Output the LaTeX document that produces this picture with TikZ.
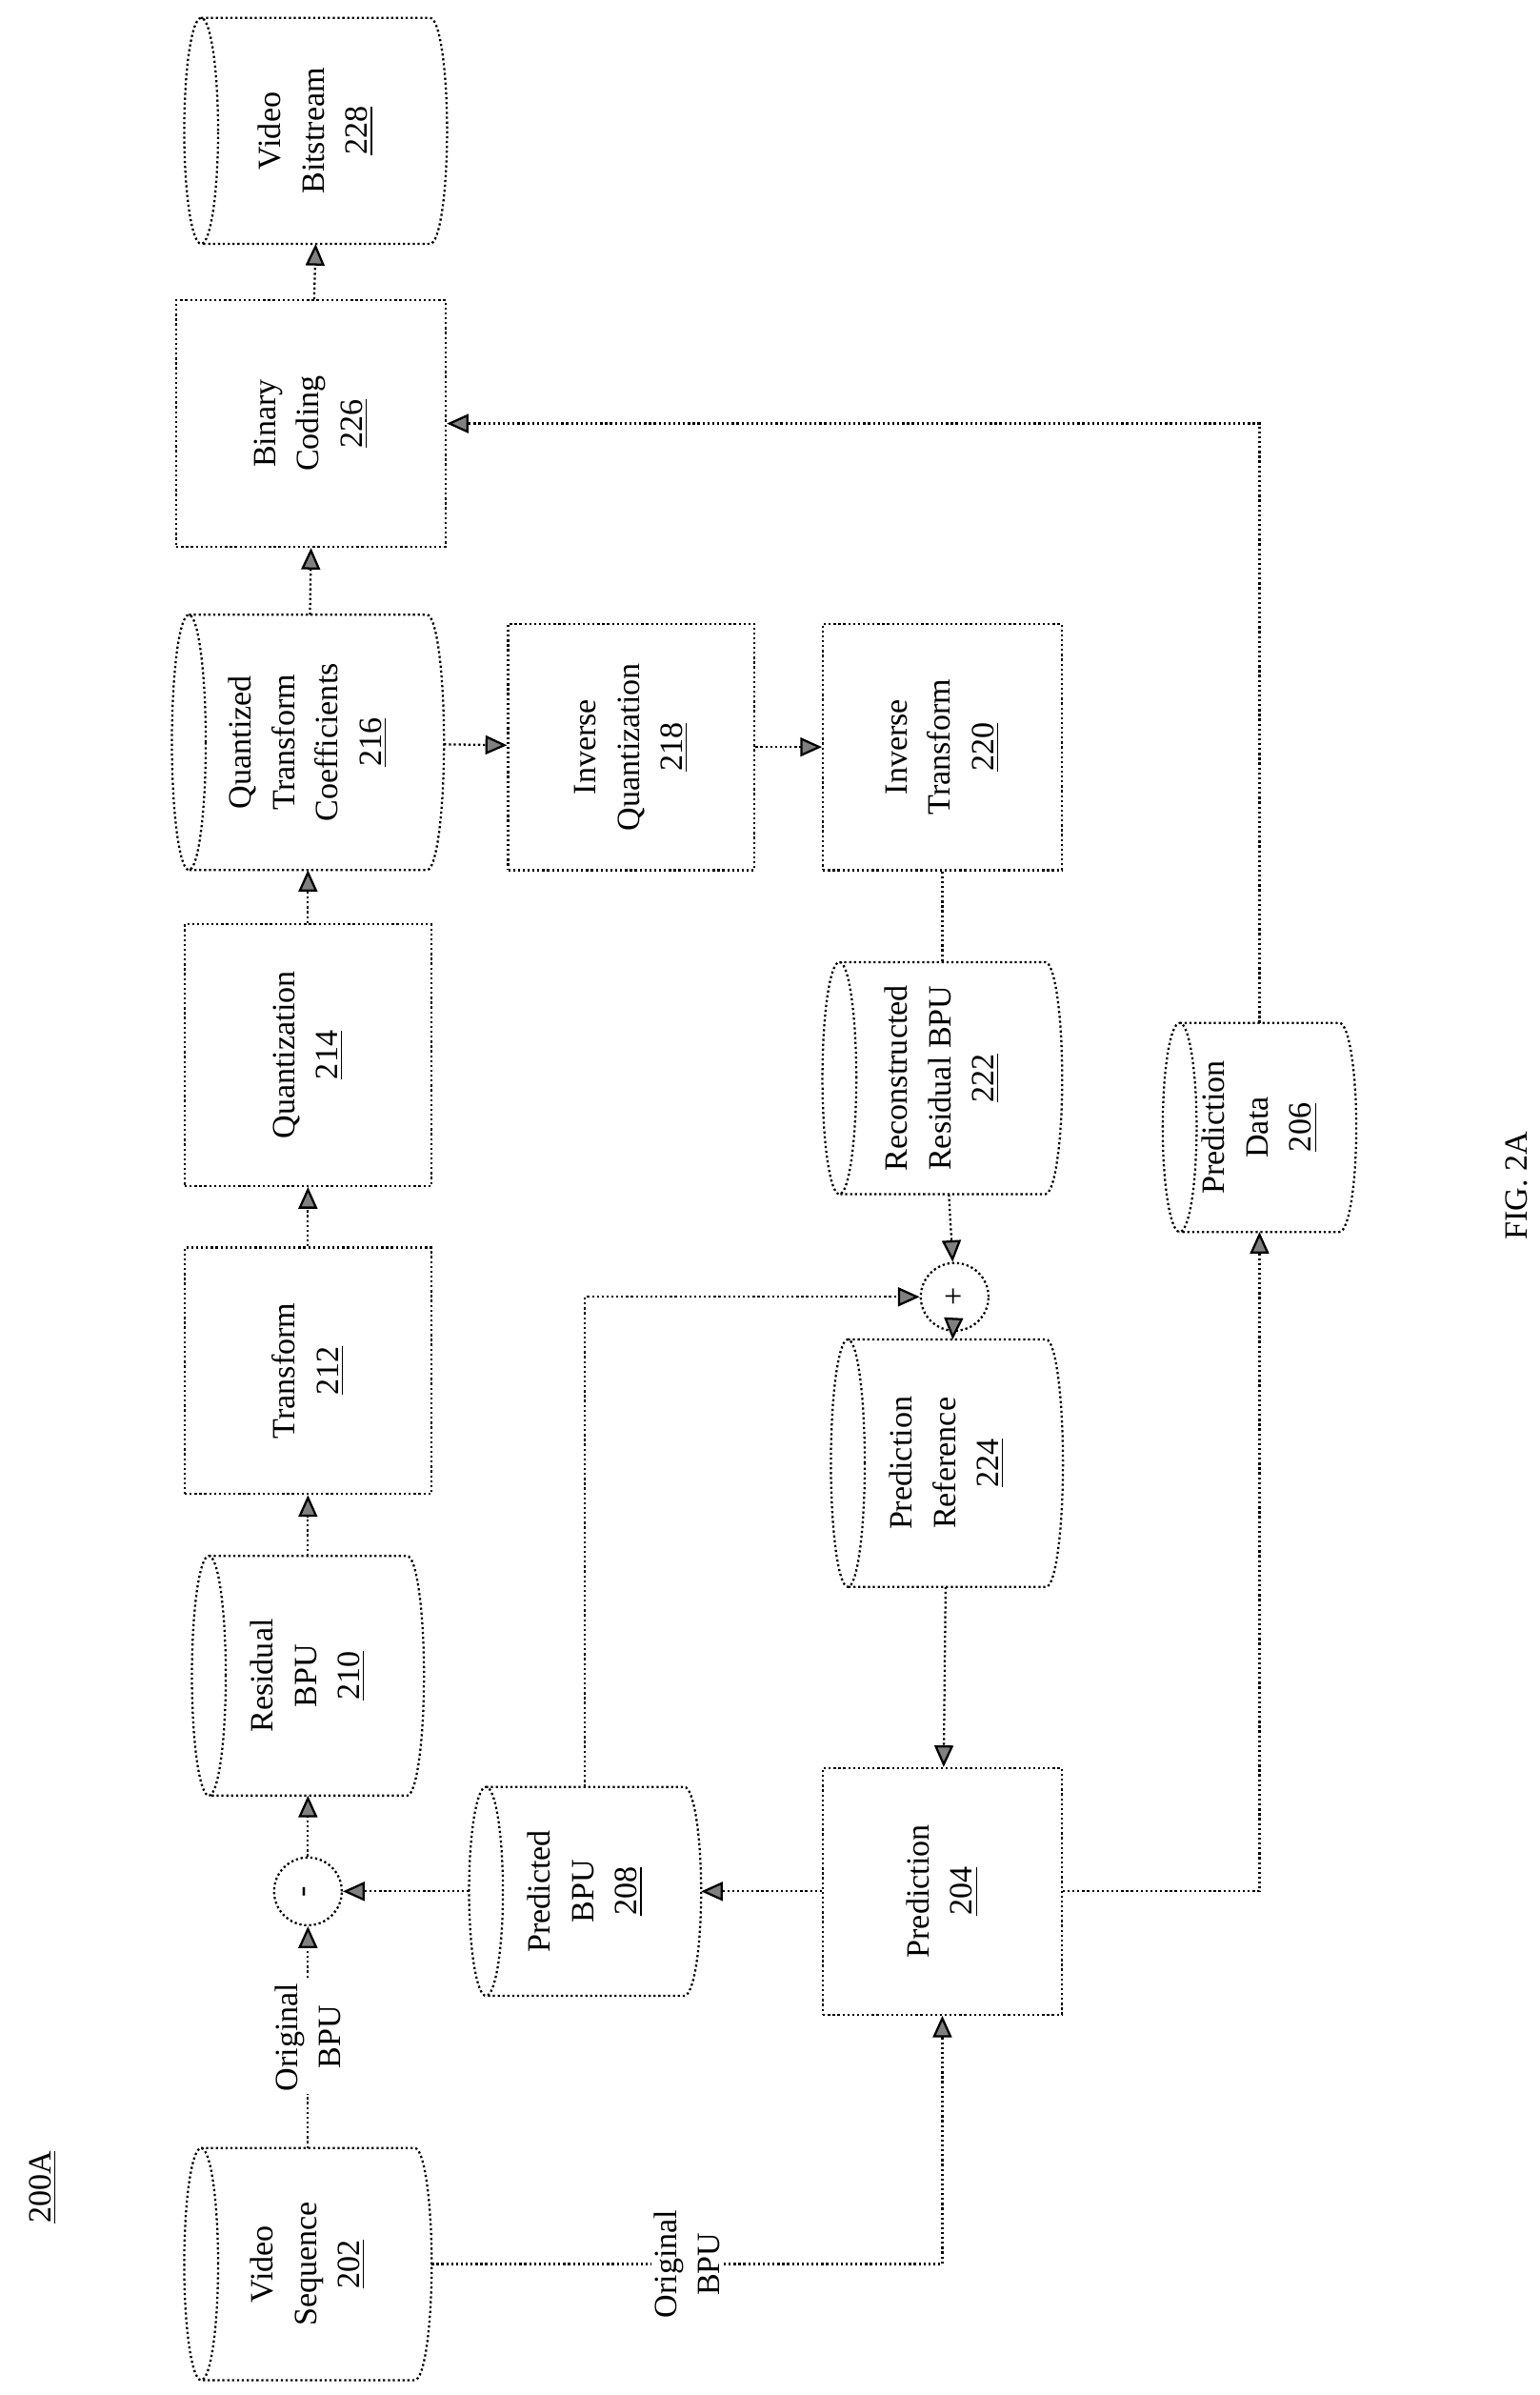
\documentclass[tikz,border=0pt]{standalone}
\usepackage{fontspec}
\setmainfont{Liberation Serif}
\usetikzlibrary{arrows.meta,calc}

\begin{document}
\begin{tikzpicture}[x=0.02cm,y=0.02cm,
    every node/.style={font=\fontsize{12}{16}\selectfont},
    blk/.style={draw, thick, densely dotted, minimum width=#1*0.02cm},
    cyl/.style={minimum width=#1*0.02cm},
    txt/.style={rotate=90, align=center, fill=white, inner sep=1pt},
    op/.style={draw, thick, densely dotted, circle, minimum size=44*0.02cm, inner sep=0pt},
    arr/.style={thick, densely dotted, -{Triangle[width=7pt,length=8pt,fill=gray]}},
    ln/.style={thick, densely dotted}]
  \useasboundingbox (0,0) rectangle (1000,-1555);
  % Blocks
  \node[blk=175, minimum height=160*0.02cm] (bc) at (202,-275) {};
  \node[blk=160, minimum height=160*0.02cm] (iq) at (410,-485) {};
  \node[blk=155, minimum height=160*0.02cm] (it) at (612,-485) {};
  \node[blk=160, minimum height=170*0.02cm] (qz) at (200,-685) {};
  \node[blk=160, minimum height=160*0.02cm] (tf) at (200,-890) {};
  \node[blk=155, minimum height=160*0.02cm] (pn) at (612,-1228) {};
  % Storage
  \node[cyl=170, minimum height=146*0.02cm] (vb) at (205,-85) {};
  \node[cyl=176, minimum height=165*0.02cm] (qtc) at (200,-482) {};
  \node[cyl=155, minimum height=150*0.02cm] (rrb) at (612,-700) {};
  \node[cyl=125, minimum height=135*0.02cm] (pd) at (818,-732) {};
  \node[cyl=150, minimum height=160*0.02cm] (pr) at (615,-950) {};
  \node[cyl=150, minimum height=155*0.02cm] (rb) at (200,-1088) {};
  \node[cyl=150, minimum height=135*0.02cm] (pb) at (380,-1228) {};
  \node[cyl=160, minimum height=150*0.02cm] (vs) at (200,-1470) {};
  \foreach \c in {vb,qtc,rrb,pd,pr,rb,pb,vs}
    \draw[ln] let \p1=(\c.north), \p2=(\c.south), \n1={(\y1-\y2)/2} in
      ([xshift=0.22cm]\c.west) ellipse [x radius=0.22cm, y radius=\n1]
      ([xshift=0.22cm]\c.north west) -- ([xshift=-0.22cm]\c.north east)
      arc[start angle=90, end angle=-90, x radius=0.22cm, y radius=\n1]
      -- ([xshift=0.22cm]\c.south west);
  % Operators
  \node[op] (mi) at (200,-1228) {};
  \node[op] (pl) at (620,-842) {};
  \node[rotate=90] at (mi) {-};
  \node[rotate=90] at (pl) {+};
  % Texts
  \node[txt] at (vb) {Video\\Bitstream\\\underline{228}};
  \node[txt] at (bc) {Binary\\Coding\\\underline{226}};
  \node[txt] at (qtc) {Quantized\\Transform\\Coefficients\\\underline{216}};
  \node[txt] at (iq) {Inverse\\Quantization\\\underline{218}};
  \node[txt] at (it) {Inverse\\Transform\\\underline{220}};
  \node[txt] at (qz) {Quantization\\\underline{214}};
  \node[txt] at (rrb) {Reconstructed\\Residual BPU\\\underline{222}};
  \node[txt] at (pd) {Prediction\\Data\\\underline{206}};
  \node[txt] at (tf) {Transform\\\underline{212}};
  \node[txt] at (pr) {Prediction\\Reference\\\underline{224}};
  \node[txt] at (rb) {Residual\\BPU\\\underline{210}};
  \node[txt] at (pb) {Predicted\\BPU\\\underline{208}};
  \node[txt] at (pn) {Prediction\\\underline{204}};
  \node[txt] at (vs) {Video\\Sequence\\\underline{202}};
  \node[txt] (tag) at (28,-1420) {\underline{200A}};
  \node[txt] (fig) at (985,-770) {FIG. 2A};
  % Forward path
  \draw[arr] (vs.north) -- node[txt] {Original\\BPU} (mi.south);
  \draw[arr] (mi) -- (rb.south);
  \draw[arr] (rb) -- (tf.south);
  \draw[arr] (tf) -- (qz.south);
  \draw[arr] (qz) -- (qtc.south);
  \draw[arr] (qtc) -- (bc.south);
  \draw[arr] (bc) -- (vb.south);
  % Reconstruction path
  \draw[arr] (qtc) -- (iq);
  \draw[arr] (iq) -- (it);
  \draw[ln] (it) -- (rrb);
  \draw[arr] (rrb) -- (pl);
  \draw[arr] (pl) -- (pr);
  \draw[arr] (pr) -- (pn);
  \draw[arr] (pn) -- (pb);
  \draw[arr] (pb) -- (mi);
  \draw[arr] (pb.north) |- (pl);
  \draw[arr] (vs.east) -- node[txt] {Original\\BPU} ($(vs.east-|pn.south)$) -- (pn.south);
  \draw[arr] (pn.east) -| (pd.south);
  \draw[arr] (pd.north) |- (bc);
\end{tikzpicture}
\end{document}
